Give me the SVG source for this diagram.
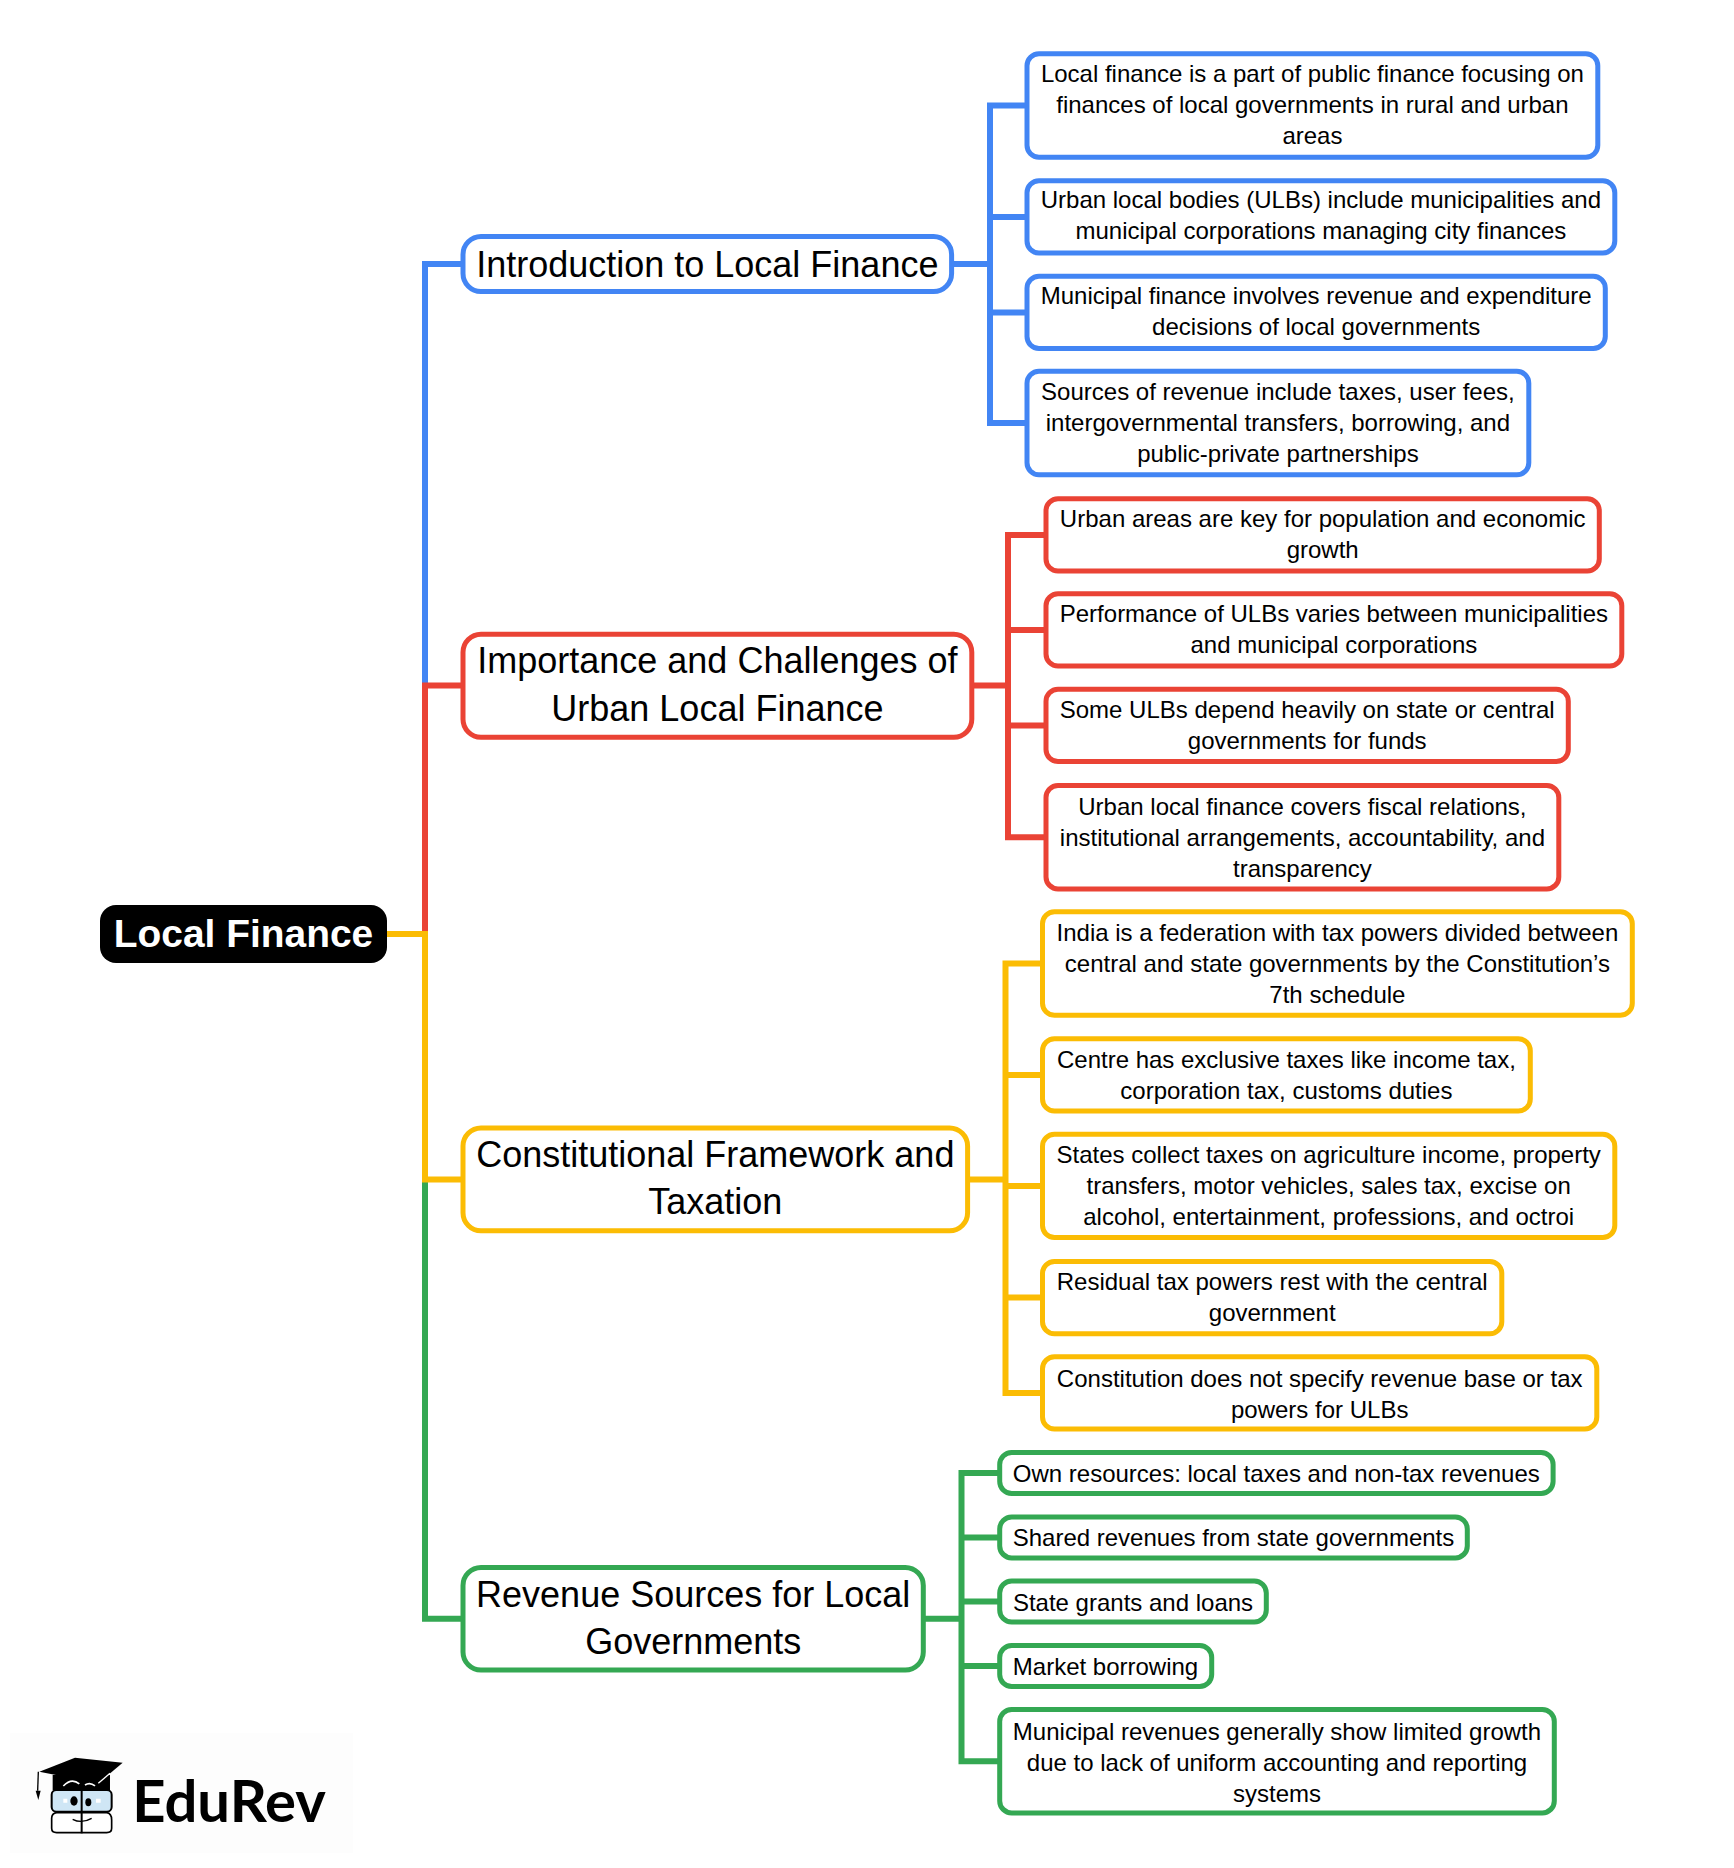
<svg xmlns="http://www.w3.org/2000/svg" width="1734" height="1868" viewBox="0 0 1734 1868">
<style>
text{font-family:"Liberation Sans",Arial,sans-serif;fill:#000;text-anchor:middle}
.leaf text{font-size:24px}
.topic text{font-size:36px}
.leaf rect,.topic rect{fill:#fff;stroke-width:5}
.leaf rect{rx:12px;ry:12px}
.topic rect{rx:18px;ry:18px}
.b rect{stroke:#4285f4}.r rect{stroke:#ea4335}.y rect{stroke:#fbbc04}.g rect{stroke:#34a853}
#connectors path{fill:none;stroke-width:6}
.cb{stroke:#4285f4}.cr{stroke:#ea4335}.cy{stroke:#fbbc04}.cg{stroke:#34a853}
</style>
<rect width="1734" height="1868" fill="#fff"/>
<g id="connectors">
<path class="cb" d="M387 934H425V264H463M951.600 264H990M990 264V105.500H1027M990 264V216.900H1027M990 264V312.400H1027M990 264V423H1027"/>
<path class="cg" d="M387 934H425V1618.700H463M923.300 1618.700H961.500M961.500 1618.700V1473H999.700M961.500 1618.700V1537.400H999.700M961.500 1618.700V1601.500H999.700M961.500 1618.700V1666H999.700M961.500 1618.700V1761.200H999.700"/>
<path class="cr" d="M387 934H425V685.500H463M971.800 685.500H1008M1008 685.500V534.900H1046M1008 685.500V629.900H1046M1008 685.500V725.400H1046M1008 685.500V837.200H1046"/>
<path class="cy" d="M387 934H425V1179.400H463M967.600 1179.400H1005.500M1005.500 1179.400V963.500H1042.500M1005.500 1179.400V1074.900H1042.500M1005.500 1179.400V1185.900H1042.500M1005.500 1179.400V1297.600H1042.500M1005.500 1179.400V1392.900H1042.500"/>
</g>
<g id="root"><rect x="100" y="905" width="287" height="58" rx="16" fill="#000"/><text x="243.500" y="947" font-size="38.900" font-weight="700" style="fill:#fff">Local Finance</text></g>
<g id="t1" class="topic b"><rect x="463" y="236.500" width="488.600" height="55"/><text x="707.300" y="276.500">Introduction to Local Finance</text></g>
<g id="t1a" class="leaf b"><rect x="1027" y="53.800" width="570.800" height="103.400"/><text x="1312.400" y="82">Local finance is a part of public finance focusing on</text><text x="1312.400" y="113.200">finances of local governments in rural and urban</text><text x="1312.400" y="144.400">areas</text></g>
<g id="t1b" class="leaf b"><rect x="1027" y="180.800" width="587.800" height="72.200"/><text x="1320.900" y="208">Urban local bodies (ULBs) include municipalities and</text><text x="1320.900" y="239.200">municipal corporations managing city finances</text></g>
<g id="t1c" class="leaf b"><rect x="1027" y="276.300" width="578.300" height="72.200"/><text x="1316.200" y="303.700">Municipal finance involves revenue and expenditure</text><text x="1316.200" y="334.900">decisions of local governments</text></g>
<g id="t1d" class="leaf b"><rect x="1027" y="371.300" width="501.800" height="103.400"/><text x="1277.900" y="400">Sources of revenue include taxes, user fees,</text><text x="1277.900" y="431.200">intergovernmental transfers, borrowing, and</text><text x="1277.900" y="462.400">public-private partnerships</text></g>
<g id="t2" class="topic r"><rect x="463" y="634.300" width="508.800" height="103"/><text x="717.400" y="673">Importance and Challenges of</text><text x="717.400" y="720.500">Urban Local Finance</text></g>
<g id="t2a" class="leaf r"><rect x="1046" y="498.800" width="553.300" height="72.200"/><text x="1322.700" y="527">Urban areas are key for population and economic</text><text x="1322.700" y="558.200">growth</text></g>
<g id="t2b" class="leaf r"><rect x="1046" y="593.800" width="575.800" height="72.200"/><text x="1333.900" y="622">Performance of ULBs varies between municipalities</text><text x="1333.900" y="653.200">and municipal corporations</text></g>
<g id="t2c" class="leaf r"><rect x="1046" y="689.300" width="522.300" height="72.200"/><text x="1307.200" y="718">Some ULBs depend heavily on state or central</text><text x="1307.200" y="749.200">governments for funds</text></g>
<g id="t2d" class="leaf r"><rect x="1046" y="785.500" width="512.800" height="103.400"/><text x="1302.400" y="814.500">Urban local finance covers fiscal relations,</text><text x="1302.400" y="845.700">institutional arrangements, accountability, and</text><text x="1302.400" y="876.900">transparency</text></g>
<g id="t3" class="topic y"><rect x="463" y="1128" width="504.600" height="102.700"/><text x="715.300" y="1166.500">Constitutional Framework and</text><text x="715.300" y="1213.500">Taxation</text></g>
<g id="t3a" class="leaf y"><rect x="1042.500" y="911.800" width="589.800" height="103.400"/><text x="1337.400" y="941">India is a federation with tax powers divided between</text><text x="1337.400" y="972.200">central and state governments by the Constitution’s</text><text x="1337.400" y="1003.400">7th schedule</text></g>
<g id="t3b" class="leaf y"><rect x="1042.500" y="1038.800" width="487.800" height="72.200"/><text x="1286.400" y="1068">Centre has exclusive taxes like income tax,</text><text x="1286.400" y="1099.200">corporation tax, customs duties</text></g>
<g id="t3c" class="leaf y"><rect x="1042.500" y="1134.200" width="572.300" height="103.400"/><text x="1328.700" y="1163">States collect taxes on agriculture income, property</text><text x="1328.700" y="1194.200">transfers, motor vehicles, sales tax, excise on</text><text x="1328.700" y="1225.400">alcohol, entertainment, professions, and octroi</text></g>
<g id="t3d" class="leaf y"><rect x="1042.500" y="1261.500" width="459.300" height="72.200"/><text x="1272.200" y="1290">Residual tax powers rest with the central</text><text x="1272.200" y="1321.200">government</text></g>
<g id="t3e" class="leaf y"><rect x="1042.500" y="1356.800" width="554.300" height="72.200"/><text x="1319.700" y="1386.500">Constitution does not specify revenue base or tax</text><text x="1319.700" y="1417.700">powers for ULBs</text></g>
<g id="t4" class="topic g"><rect x="463" y="1567.400" width="460.300" height="102.700"/><text x="693.200" y="1606.500">Revenue Sources for Local</text><text x="693.200" y="1654">Governments</text></g>
<g id="t4a" class="leaf g"><rect x="999.700" y="1452.500" width="553.400" height="41"/><text x="1276.300" y="1482">Own resources: local taxes and non-tax revenues</text></g>
<g id="t4b" class="leaf g"><rect x="999.700" y="1516.900" width="467.600" height="41"/><text x="1233.500" y="1546">Shared revenues from state governments</text></g>
<g id="t4c" class="leaf g"><rect x="999.700" y="1581" width="266.600" height="41"/><text x="1133" y="1610.500">State grants and loans</text></g>
<g id="t4d" class="leaf g"><rect x="999.700" y="1645.500" width="212" height="41"/><text x="1105.500" y="1674.500">Market borrowing</text></g>
<g id="t4e" class="leaf g"><rect x="999.700" y="1709.500" width="554.600" height="103.400"/><text x="1277" y="1740">Municipal revenues generally show limited growth</text><text x="1277" y="1771.200">due to lack of uniform accounting and reporting</text><text x="1277" y="1802.400">systems</text></g>
<g id="logo">
<rect x="10" y="1733" width="343" height="120" fill="#fdfdfd"/>
<g transform="translate(0 1720) scale(.3333)">
<path d="M158 165H330V210H158Z" fill="#000"/>
<path d="M190 198Q215 172 238 192M255 195Q270 185 285 198" fill="none" stroke="#fff" stroke-width="5"/>
<path d="M118 155L225 113L368 128L295 190Z" fill="#000"/>
<path d="M295 190L330 160" stroke="#fff" stroke-width="4"/>
<path d="M115 155L113 212" stroke="#000" stroke-width="4" fill="none"/>
<path d="M107 212H122L115 240Z" fill="#000"/>
<rect x="155" y="210" width="180" height="65" rx="14" fill="#cfe6f5" stroke="#000" stroke-width="6"/>
<path d="M170 278H320Q335 280 335 300V325Q335 338 320 338H170Q155 338 155 325V295Q155 280 170 278Z" fill="#fff" stroke="#000" stroke-width="5"/>
<path d="M245 205V340" stroke="#000" stroke-width="6" fill="none"/>
<path d="M218 298Q245 312 275 295" stroke="#000" stroke-width="4" fill="none"/>
<ellipse cx="222" cy="243" rx="11" ry="14" fill="#000"/><ellipse cx="265" cy="247" rx="9" ry="12" fill="#000"/>
<path d="M190 236H202V248H190ZM288 236H302V248H288Z" fill="#fff"/>
</g>
<text x="229" y="1822" font-size="58" font-weight="700" style="font-family:Lato,'Open Sans',sans-serif">EduRev</text>
</g>
</svg>
